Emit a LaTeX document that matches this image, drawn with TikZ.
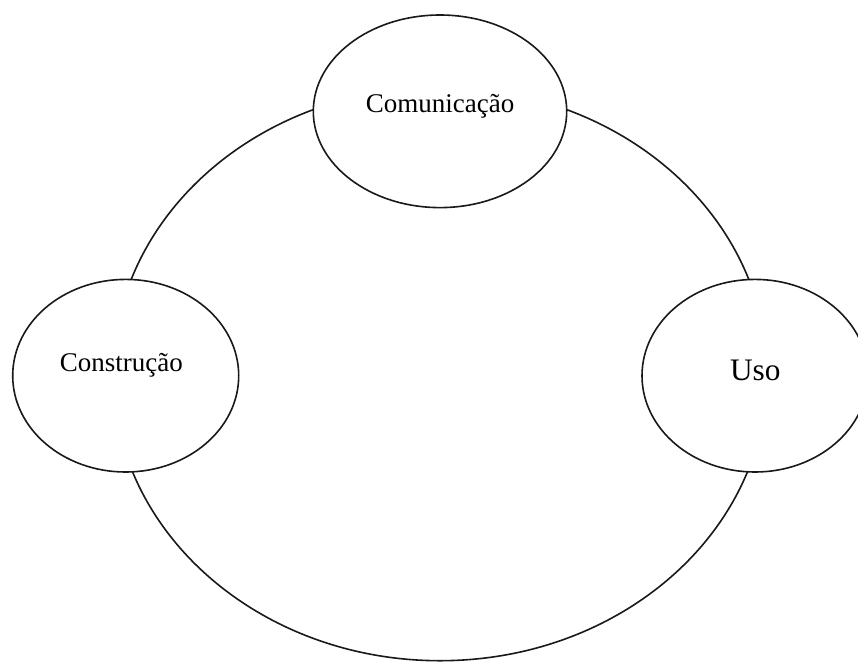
\documentclass[tikz,border=0pt]{standalone}
\usepackage{fontspec}
\setmainfont{Liberation Serif}
\usetikzlibrary{shapes.geometric}
\tikzset{
  ring/.style={draw=black!90, line width=1.6pt, ellipse, inner sep=0pt, outer sep=0pt},
  phase/.style={ring, fill=white},
  phaselabel/.style={anchor=base, inner sep=0pt, font=\fontsize{27}{30}\selectfont},
}
\begin{document}
\begin{tikzpicture}[x=1pt, y=-1pt]
  \useasboundingbox (0,0) rectangle (858,662);
  % outer cycle
  \node[ring, minimum width=654pt, minimum height=573.4pt] (cycle) at (440,374) {};
  % the three phases sitting on the cycle
  \node[phase, minimum width=253.4pt, minimum height=192.6pt] (com) at (440,111.3) {};
  \node[phase, minimum width=226pt, minimum height=192.6pt] (cons) at (125.7,375.7) {};
  \node[phase, minimum width=226pt, minimum height=192.6pt] (uso) at (755,375.7) {};
  % labels
  \node[phaselabel] (comtext) at (440,112.7) {Comunicação};
  \node[phaselabel] (constext) at (121.3,371) {Construção};
  \node[phaselabel, font=\fontsize{31.3}{34}\selectfont] (usotext) at (755.3,380.7) {Uso};
\end{tikzpicture}
\end{document}
